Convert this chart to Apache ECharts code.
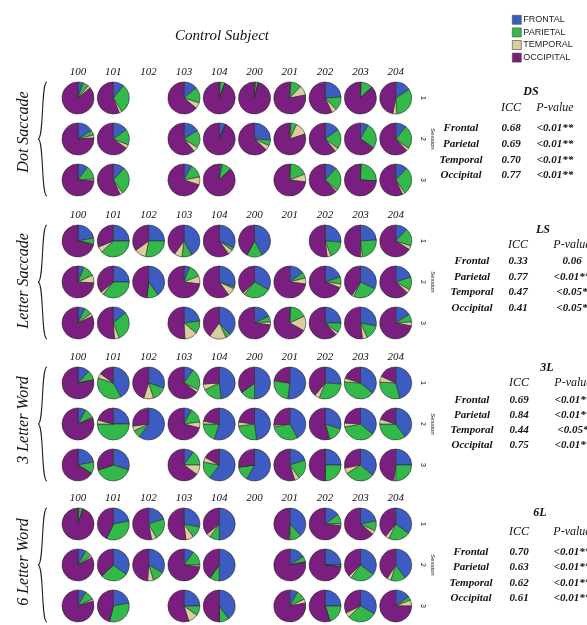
<!DOCTYPE html>
<html>
<head>
<meta charset="utf-8">
<script src="https://cdn.jsdelivr.net/npm/echarts@6/dist/echarts.min.js"></script>
<style>
  html, body { margin: 0; background: #fff; }
  #chart { width: 587px; height: 625px; }
</style>
</head>
<body>
<div id="chart"></div>
<script>
// subjects (columns) and brain regions (pie slices, clockwise from 12 o'clock)
const subjects = ['100', '101', '102', '103', '104', '200', '201', '202', '203', '204'];
const regions = ['FRONTAL', 'PARIETAL', 'TEMPORAL', 'OCCIPITAL'];
const regionColors = ['#3d5cc2', '#33b94a', '#dccd9c', '#7a1f80'];

// each entry: [frontal, parietal, temporal, occipital] %, null = no session recorded
// Dot Saccade
const dsS1 = [[5,6,3,86], [11,30,3,56], null, [14,16,6,64], [1,5,0,94], [1,3,0,96], [1,11,10,78], [24,14,5,57], [1,12,0,87], [16,33,4,47]];
const dsS2 = [[16,5,3,76], [15,16,4,65], null, [16,18,5,61], [6,1,0,93], [26,6,5,63], [1,6,13,80], [15,20,4,61], [8,26,1,65], [11,24,3,62]];
const dsS3 = [[10,14,2,74], [12,28,3,57], null, [8,14,8,70], [3,10,0,87], null, [1,18,8,73], [12,24,2,62], [1,25,0,74], [12,28,3,57]];
// Letter Saccade
const lsS1 = [[22,6,1,71], [25,38,6,31], [25,28,12,35], [42,10,8,40], [32,3,5,60], [42,16,0,42], null, [26,18,4,52], [24,24,2,50], [12,18,4,66]];
const lsS2 = [[6,12,8,74], [25,36,3,36], [40,12,0,48], [6,13,8,73], [30,2,8,60], [33,28,2,37], [15,6,6,73], [20,7,4,69], [32,25,2,41], [20,13,4,63]];
const lsS3 = [[7,8,3,82], [14,30,5,51], null, [23,13,13,51], [38,5,17,40], [18,6,3,73], [1,17,15,67], [25,10,3,62], [28,15,5,52], [16,8,4,72]];
// 3 Letter Word
const l3S1 = [[12,10,0,78], [42,38,5,15], [30,15,10,45], [10,22,3,65], [48,20,6,26], [50,15,0,35], [52,25,1,22], [26,30,5,39], [36,40,4,20], [46,30,6,18]];
const l3S2 = [[8,10,1,81], [25,50,4,21], [60,8,5,27], [8,15,6,71], [55,20,3,22], [48,25,4,23], [42,30,2,26], [30,15,1,54], [36,36,4,24], [40,35,5,20]];
const l3S3 = [[22,12,0,66], [30,40,0,30], null, [10,15,10,65], [60,18,5,17], [58,15,0,27], [20,20,5,55], [25,25,0,50], [36,30,6,28], [25,25,2,48]];
// 6 Letter Word
const l6S1 = [[1,4,0,95], [22,35,0,43], [20,22,5,53], [28,12,8,52], [50,10,4,36], null, [38,12,1,49], [15,10,2,73], [22,10,4,64], [35,22,4,39]];
const l6S2 = [[8,7,2,83], [35,28,0,37], [33,12,6,49], [10,15,2,73], [50,10,0,40], null, [16,6,0,78], [25,2,0,73], [35,25,3,37], [40,15,4,41]];
const l6S3 = [[8,10,2,80], [22,32,0,46], null, [25,10,10,55], [40,10,0,50], null, [8,10,4,78], [25,20,0,55], [33,30,5,32], [15,4,6,75]];

// ICC tables
const tableRows = ['Frontal', 'Parietal', 'Temporal', 'Occipital'];
const dsIcc = ['0.68', '0.69', '0.70', '0.77'];
const dsPval = ['<0.01**', '<0.01**', '<0.01**', '<0.01**'];
const lsIcc = ['0.33', '0.77', '0.47', '0.41'];
const lsPval = ['0.06', '<0.01**', '<0.05*', '<0.05*'];
const l3Icc = ['0.69', '0.84', '0.44', '0.75'];
const l3Pval = ['<0.01**', '<0.01**', '<0.05*', '<0.01**'];
const l6Icc = ['0.70', '0.63', '0.62', '0.61'];
const l6Pval = ['<0.01**', '<0.01**', '<0.01**', '<0.01**'];

const blocks = [
  { name: 'Dot Saccade', key: 'DS', sessions: [dsS1, dsS2, dsS3], icc: dsIcc, pval: dsPval,
    top: 98, nameY: 132, tx: [461, 511, 555, 531], ty: [92, 108, 128, 144, 160, 175] },
  { name: 'Letter Saccade', key: 'LS', sessions: [lsS1, lsS2, lsS3], icc: lsIcc, pval: lsPval,
    top: 241, nameY: 281, tx: [472, 518, 572, 543], ty: [230, 245, 261, 277, 292, 308] },
  { name: '3 Letter Word', key: '3L', sessions: [l3S1, l3S2, l3S3], icc: l3Icc, pval: l3Pval,
    top: 383, nameY: 420, tx: [472, 519, 573, 547], ty: [368, 383, 400, 415, 430, 445] },
  { name: '6 Letter Word', key: '6L', sessions: [l6S1, l6S2, l6S3], icc: l6Icc, pval: l6Pval,
    top: 524, nameY: 562, tx: [471, 519, 572, 540], ty: [513, 532, 552, 567, 583, 598] }
];

const colX = i => 78 + i * 35.3;
const rowGap = 41;
const serif = '"Liberation Serif", "DejaVu Serif", serif';

const series = [];
const graphics = [];

function txt(text, x, y, font, opts) {
  opts = opts || {};
  graphics.push({
    type: 'text', x: x, y: y, rotation: opts.rotation || 0, silent: true,
    style: { text: text, font: font, fill: opts.fill || '#111',
             textAlign: opts.align || 'center', textVerticalAlign: 'middle' }
  });
}

function brace(x, yTop, yBot) {
  const mid = (yTop + yBot) / 2;
  const s = { stroke: '#222', lineWidth: 1.1, fill: null };
  graphics.push({ type: 'bezierCurve', silent: true, style: s,
    shape: { x1: x + 5, y1: yTop, cpx1: x - 1, cpy1: yTop, cpx2: x + 2, cpy2: mid, x2: x - 4, y2: mid } });
  graphics.push({ type: 'bezierCurve', silent: true, style: s,
    shape: { x1: x - 4, y1: mid, cpx1: x + 2, cpy1: mid, cpx2: x - 1, cpy2: yBot, x2: x + 5, y2: yBot } });
}

txt('Control Subject', 222, 36, 'italic 15px ' + serif);

blocks.forEach(b => {
  // column labels
  subjects.forEach((s, i) => {
    txt(s, colX(i), b.top - 26, 'italic 11px ' + serif);
  });
  // pies
  b.sessions.forEach((sess, r) => {
    sess.forEach((vals, i) => {
      if (!vals) return;
      series.push({
        type: 'pie', silent: true, radius: 16,
        center: [colX(i), b.top + r * rowGap],
        startAngle: 90, clockwise: true,
        label: { show: false }, labelLine: { show: false },
        itemStyle: { borderColor: '#2a2a2a', borderWidth: 0.6 },
        data: regions.map((n, k) => ({ name: n, value: vals[k] }))
      });
    });
    txt(String(r + 1), 423, b.top + r * rowGap, '7px "Liberation Sans", sans-serif', { rotation: -Math.PI / 2 });
  });
  txt('Session', 433, b.top + rowGap, '6px "Liberation Sans", sans-serif', { rotation: -Math.PI / 2 });
  // block name + brace
  txt(b.name, 24, b.nameY, 'italic 16px ' + serif, { rotation: Math.PI / 2 });
  brace(42, b.top - 16, b.top + 2 * rowGap + 16);
  // ICC table
  txt(b.key, b.tx[3], b.ty[0], 'italic bold 12px ' + serif);
  txt('ICC', b.tx[1], b.ty[1], 'italic 12px ' + serif);
  txt('P-value', b.tx[2], b.ty[1], 'italic 12px ' + serif);
  tableRows.forEach((row, k) => {
    txt(row, b.tx[0], b.ty[2 + k], 'italic bold 11px ' + serif);
    txt(b.icc[k], b.tx[1], b.ty[2 + k], 'italic bold 11px ' + serif);
    txt(b.pval[k], b.tx[2], b.ty[2 + k], 'italic bold 11px ' + serif);
  });
});

const chart = echarts.init(document.getElementById('chart'), null, { renderer: 'canvas' });
chart.setOption({
  animation: false,
  backgroundColor: '#fff',
  color: regionColors,
  legend: {
    data: regions, orient: 'vertical', left: 507, top: 10,
    itemWidth: 9, itemHeight: 9, itemGap: 3, icon: 'rect', selectedMode: false,
    itemStyle: { borderColor: '#444', borderWidth: 0.6 },
    textStyle: { fontSize: 9, fontFamily: '"Liberation Sans", Arial, sans-serif', color: '#222', padding: [0, 0, 0, -3] }
  },
  graphic: { elements: graphics },
  series: series
});
</script>
</body>
</html>
